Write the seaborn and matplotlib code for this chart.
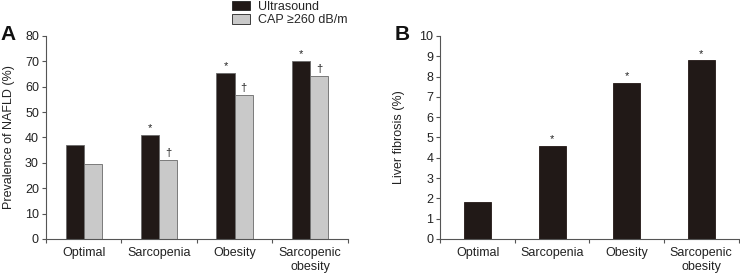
import numpy as np
import pandas as pd
import matplotlib
matplotlib.use('agg')
import matplotlib.pyplot as plt
from matplotlib.ticker import FixedLocator
import seaborn as sns

# data
groups = ["Optimal", "Sarcopenia", "Obesity", "Sarcopenic\nobesity"]
ultrasound = [37.0, 41.0, 65.5, 70.2]
cap260 = [29.5, 31.2, 56.8, 64.3]
fibrosis = [1.8, 4.6, 7.7, 8.8]
marks_us = ["", "*", "*", "*"]
marks_cap = ["", "\u2020", "\u2020", "\u2020"]
marks_fib = ["", "*", "*", "*"]

sns.set_style("ticks")
plt.rcParams['font.family'] = ['Liberation Sans', 'DejaVu Sans']
fs = 9

dark = "#231815"
light = "#c9c9c9"
spine_c = "#555555"

fig = plt.figure(figsize=(7.4, 2.74), dpi=100)
axA = fig.add_axes([0.062, 0.128, 0.408, 0.741])
axB = fig.add_axes([0.595, 0.128, 0.403, 0.741])

dfA = pd.DataFrame({
	"group": groups * 2,
	"value": ultrasound + cap260,
	"method": ["Ultrasound"] * 4 + ["CAP \u2265260 dB/m"] * 4,
})
sns.barplot(data=dfA, x="group", y="value", hue="method", order=groups,
	palette=[dark, light], width=0.48, edgecolor="#6a6a6a", linewidth=0.6,
	errorbar=None, ax=axA, legend=True)

dfB = pd.DataFrame({"group": groups, "value": fibrosis})
sns.barplot(data=dfB, x="group", y="value", order=groups, color=dark,
	width=0.36, edgecolor=dark, linewidth=0.6, errorbar=None, ax=axB)

def annotate(ax, container, marks, off, size):
	for bar, m in zip(container, marks):
		if m:
			ax.text(bar.get_x() + bar.get_width() / 2, bar.get_height() + off, m,
				ha="center", va="bottom", fontsize=size, color="#222222")

annotate(axA, axA.containers[0], marks_us, 0.6, 8)
annotate(axA, axA.containers[1], marks_cap, 0.6, 8)
annotate(axB, axB.containers[0], marks_fib, 0.08, 8)

for ax, top, step, ylab, lp in [(axA, 80, 10, "Prevalence of NAFLD (%)", 7),
		(axB, 10, 1, "Liver fibrosis (%)", 10)]:
	ax.set_ylim(0, top)
	ax.set_yticks(np.arange(0, top + step / 2, step))
	ax.set_xlim(-0.5, 3.5)
	ax.set_xlabel("")
	ax.set_ylabel(ylab, fontsize=fs, color="#222222", labelpad=lp)
	ax.xaxis.set_minor_locator(FixedLocator([-0.5, 0.5, 1.5, 2.5, 3.5]))
	ax.tick_params(axis="x", which="major", length=0, pad=6, labelsize=fs, colors="#222222")
	ax.tick_params(axis="x", which="minor", length=3, direction="out", color=spine_c, width=0.8)
	ax.tick_params(axis="y", length=3, width=0.8, color=spine_c, labelsize=fs, labelcolor="#222222", pad=2)
	for s in ["top", "right"]:
		ax.spines[s].set_visible(False)
	for s in ["left", "bottom"]:
		ax.spines[s].set_color(spine_c)
		ax.spines[s].set_linewidth(0.8)

handles, labels = axA.get_legend_handles_labels()
axA.get_legend().remove()
for h in handles:
	h.set_edgecolor("#222222")
fig.legend(handles, labels, loc="upper left", bbox_to_anchor=(0.312, 1.0),
	frameon=False, fontsize=fs, handlelength=1.5, handleheight=0.8,
	handletextpad=0.6, labelspacing=0.1, borderaxespad=0, borderpad=0.05)

fig.text(0.0, 0.855, "A", fontsize=15, fontweight="bold", color="#111111")
fig.text(0.533, 0.855, "B", fontsize=15, fontweight="bold", color="#111111")

plt.savefig("out.png", dpi=100)
